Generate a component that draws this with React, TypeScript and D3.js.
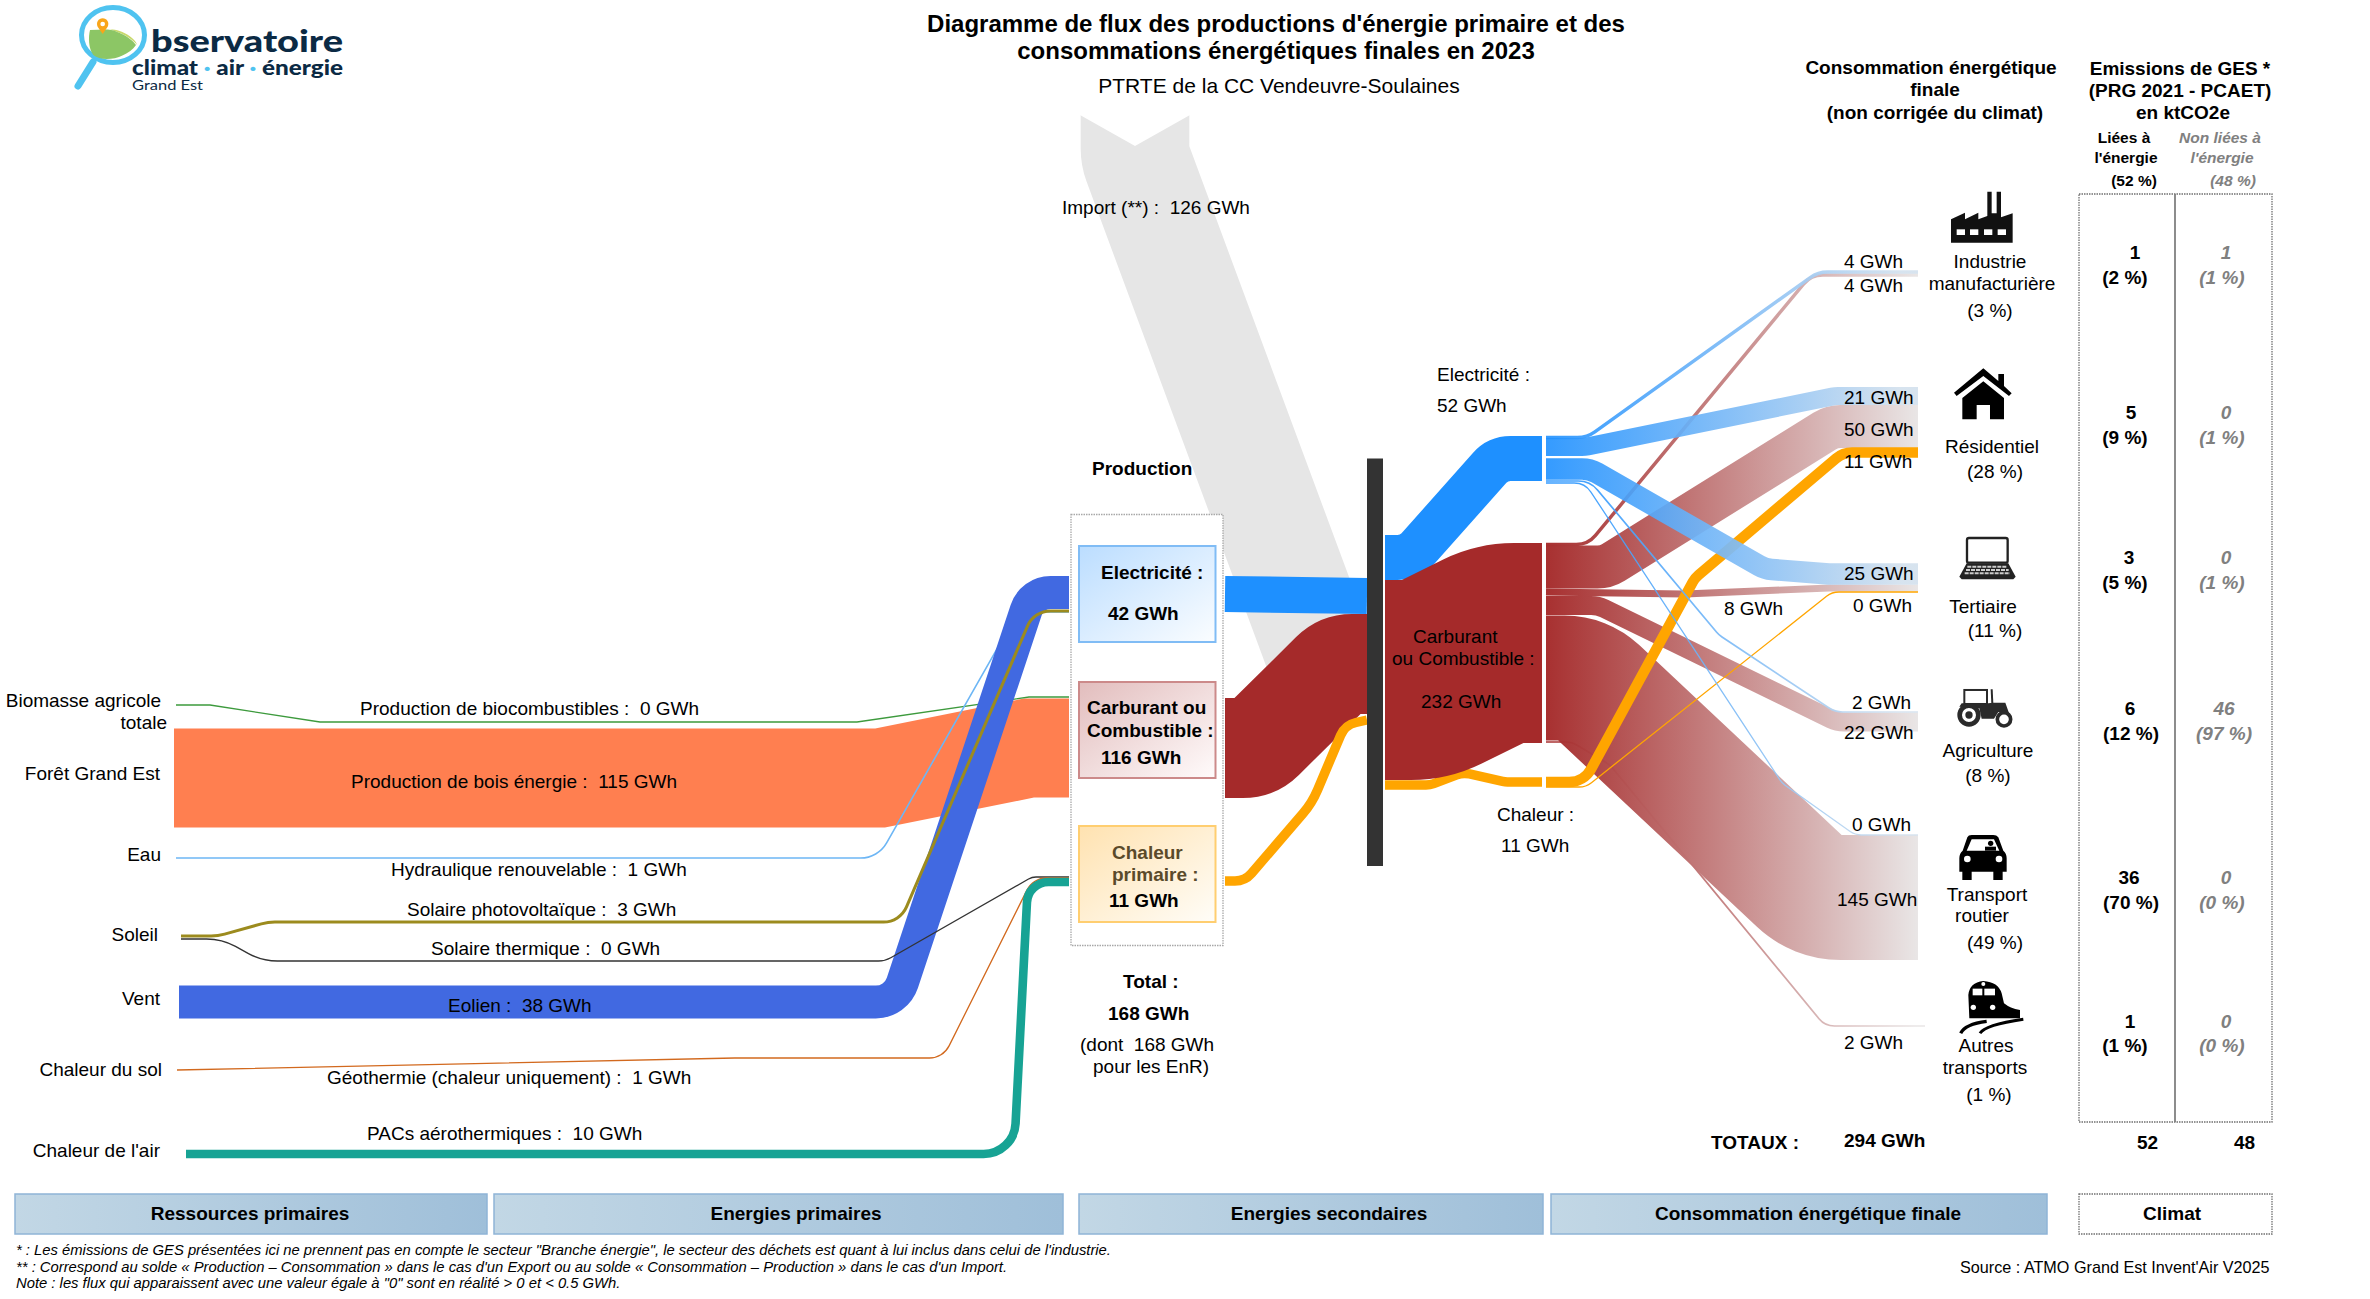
import React from "react";
import * as d3 from "d3";

// ---------- DATA ----------
const primaryFlowNames = ["Production de biocombustibles", "Production de bois énergie", "Hydraulique renouvelable", "Solaire photovoltaïque", "Solaire thermique", "Eolien", "Géothermie (chaleur uniquement)", "PACs aérothermiques"];
const primaryFlowValues = [0, 115, 1, 3, 0, 38, 1, 10];
const primaryTotals = [42, 116, 11];
const secondaryTotals = [52, 232, 11];
const importValue = 126;
const totalProduction = 168;
const totalFinal = 294;
const sectorShares = [3, 28, 11, 8, 49, 1];
const elecToSector = [4, 21, 25, 2, 0];
const fuelToSector = [4, 50, 8, 22, 145, 2];
const heatToSector = [11, 0];
const gesEnergy = [1, 5, 3, 6, 36, 1];
const gesEnergyPct = [2, 9, 5, 12, 70, 1];
const gesOther = [1, 0, 0, 46, 0, 0];
const gesOtherPct = [1, 1, 1, 97, 0, 0];
const gesTotals = [52, 48];

// ---------- LAYOUT ----------
type P = [number, number];
const k = d3.scaleLinear().domain([0, 232]).range([0, 200]);
const w = (v: number, min = 1.3) => Math.max(min, k(v));

function route(pts: P[], r: number | number[] = 0): string {
  const p = d3.path();
  p.moveTo(pts[0][0], pts[0][1]);
  for (let i = 1; i < pts.length - 1; i++) {
    const [x0, y0] = pts[i - 1], [x1, y1] = pts[i], [x2, y2] = pts[i + 1];
    const a = Math.hypot(x1 - x0, y1 - y0), b = Math.hypot(x2 - x1, y2 - y1);
    const cos = ((x1 - x0) * (x2 - x1) + (y1 - y0) * (y2 - y1)) / (a * b);
    const th = Math.acos(Math.max(-1, Math.min(1, cos)));
    const tan = Math.tan(th / 2);
    const want = Array.isArray(r) ? r[i - 1] : r;
    const rr = tan > 1e-3 ? Math.min(want, (Math.min(a, b) * 0.5) / tan) : 0;
    p.arcTo(x1, y1, x2, y2, rr);
  }
  const l = pts[pts.length - 1];
  p.lineTo(l[0], l[1]);
  return p.toString();
}

const primaryRoutes: { pts: P[]; r: number | number[]; c: string; min?: number }[] = [
  { pts: [[176, 705], [210, 705], [320, 722], [857, 722], [1029, 697], [1069, 697]], r: 0, c: "#3d9a3d" },
  { pts: [[174, 778], [880, 778], [1029, 748], [1069, 748]], r: 0, c: "#FF7F50" },
  { pts: [[176, 858], [878, 858], [1018, 612], [1069, 612]], r: 30, c: "#6DB6F5", min: 1.6 },
  { pts: [[181, 936], [218, 936], [268, 922], [900, 922], [1034, 611], [1069, 611]], r: [50, 50, 25, 25], c: "#9C8B1E", min: 3 },
  { pts: [[181, 939], [222, 939], [262, 961], [885, 961], [1032, 877], [1069, 877]], r: [60, 60, 25, 15], c: "#333333" },
  { pts: [[179, 1002], [896, 1002], [1032, 592.5], [1069, 592.5]], r: 28, c: "#4169E1" },
  { pts: [[177, 1070], [735, 1058], [943, 1058], [1033, 878], [1069, 878]], r: 22, c: "#D2691E" },
  { pts: [[186, 1154], [1014, 1154], [1028, 882], [1069, 882]], r: 32, c: "#17A394" },
];
const primaryDrawOrder = [1, 0, 2, 5, 3, 4, 6, 7];

const outRoutesElec: { pts: P[]; r: number }[] = [
  { pts: [[1546, 437.5], [1587, 437.5], [1818, 272], [1918, 272]], r: 30 },
  { pts: [[1546, 447], [1585, 447], [1835, 396], [1918, 396]], r: 30 },
  { pts: [[1546, 469], [1590, 469], [1765, 569], [1830, 574], [1918, 574]], r: 30 },
  { pts: [[1546, 481], [1590, 481], [1719, 635], [1835, 712], [1918, 712]], r: 25 },
  { pts: [[1546, 483], [1585, 483], [1782, 783], [1855, 835], [1918, 835]], r: 20 },
];
const outRoutesFuel: { pts: P[]; r: number }[] = [
  { pts: [[1546, 544.5], [1588, 544.5], [1811, 275], [1918, 275]], r: 25 },
  { pts: [[1546, 567], [1606, 567], [1832, 426.5], [1918, 426.5]], r: 30 },
  { pts: [[1546, 592], [1684, 594], [1830, 588], [1918, 588]], r: 30 },
  { pts: [[1546, 605.5], [1598, 605.5], [1837, 722], [1918, 722]], r: 30 },
  { pts: [[1546, 678], [1583, 678], [1817, 897.5], [1918, 897.5]], r: 60 },
  { pts: [[1546, 742], [1572, 742], [1610, 765], [1825, 1026], [1925, 1026]], r: 20 },
];
const outRoutesHeat: { pts: P[]; r: number; min: number }[] = [
  { pts: [[1546, 782], [1584, 782], [1695, 578], [1843, 452.5], [1918, 452.5]], r: 25, min: 10.5 },
  { pts: [[1546, 787], [1586, 787], [1832, 592], [1918, 592]], r: 20, min: 1.3 },
];
const fuelDrawOrder = [4, 5, 3, 2, 1, 0];

const FF = "'Liberation Sans', Arial, sans-serif";
const S = 19;

type T = [string, number, number, ("start" | "middle" | "end")?];
const Txt = ({ items, size = S, weight, style, fill = "#000" }: { items: T[]; size?: number; weight?: string; style?: string; fill?: string }) => (
  <>
    {items.map(([s, x, y, a], i) => (
      <text key={i} x={x} y={y} textAnchor={a ?? "start"} fontSize={size} fontWeight={weight} fontStyle={style} fill={fill} xmlSpace="preserve">{s}</text>
    ))}
  </>
);

const Grad = ({ id, stops, x1 = "0", y1 = "0", x2 = "1", y2 = "0", user }: { id: string; stops: [number, string, number?][]; x1?: any; y1?: any; x2?: any; y2?: any; user?: boolean }) => (
  <linearGradient id={id} x1={x1} y1={y1} x2={x2} y2={y2} gradientUnits={user ? "userSpaceOnUse" : undefined}>
    {stops.map(([o, c, a], i) => <stop key={i} offset={o} stopColor={c} stopOpacity={a ?? 1} />)}
  </linearGradient>
);

const flowLabel = (i: number) => `${primaryFlowNames[i]} :  ${primaryFlowValues[i]} GWh`;

export default function App() {
  const flowLabelPos: [number, number][] = [[360, 715], [351, 788], [391, 876], [407, 916], [431, 955], [448, 1012], [327, 1084], [367, 1140]];
  const headerBars: [string, number, number][] = [["Ressources primaires", 15, 487], ["Energies primaires", 494, 1063], ["Energies secondaires", 1079, 1543], ["Consommation énergétique finale", 1551, 2047]];
  const barLabelX = [250, 796, 1329, 1808];
  const boxes: [number, string, string][] = [[546, "url(#gBoxE)", "#80BCF5"], [682, "url(#gBoxC)", "#CC8A8A"], [826, "url(#gBoxH)", "#FFCE70"]];
  const gesRows: [number, number, number, number, number, number][] = [
    [259, 284, 2135, 2125, 2226, 2222], [419, 444, 2131, 2125, 2226, 2222], [563.5, 589, 2129, 2125, 2226, 2222],
    [715, 740, 2130, 2131, 2224, 2224], [884, 909, 2129, 2131, 2226, 2222], [1027.5, 1052, 2130, 2125, 2226, 2222],
  ];

  return (
    <svg width={2370} height={1299} style={{ position: "absolute", left: 0, top: 0, display: "block", background: "#fff" }} fontFamily={FF}>
      <defs>
        <Grad id="gBlue" user x1={1546} x2={1900} y1={0} y2={0} stops={[[0, "#1E90FF", 0.9], [1, "#D5E2EE", 0.95]]} />
        <Grad id="gRed" user x1={1546} x2={1918} y1={0} y2={0} stops={[[0, "#A52A2A", 0.97], [1, "#E9E6E6", 1]]} />
        <Grad id="gBoxE" x2="1" y2="1" stops={[[0, "#BBDDFF"], [1, "#FBFDFF"]]} />
        <Grad id="gBoxC" x2="1" y2="1" stops={[[0, "#E2BDBD"], [1, "#FFFBFB"]]} />
        <Grad id="gBoxH" x2="1" y2="1" stops={[[0, "#FFE2B0"], [1, "#FFFDF8"]]} />
        <Grad id="gBar" stops={[[0, "#C2D7E5"], [1, "#9FBFD9"]]} />
      </defs>

      {/* Import */}
      <path d={route([[1135, 110], [1135, 156], [1320, 655]], 40)} fill="none" stroke="#E6E6E6" strokeWidth={k(importValue)} />
      <polygon points="1070,115 1080,115 1135,146 1190,115 1200,115 1200,100 1070,100" fill="#fff" />

      {/* Production frame */}
      <rect x={1071} y={514.5} width={152} height={431} fill="#fff" stroke="#A8A8A8" strokeWidth={1.3} strokeDasharray="1.5 1" />

      {/* Primary flows */}
      {primaryDrawOrder.map((i) => {
        const f = primaryRoutes[i];
        return <path key={i} d={route(f.pts, f.r)} fill="none" stroke={f.c} strokeWidth={w(primaryFlowValues[i], f.min ?? 1.3)} />;
      })}

      {/* Production boxes */}
      {boxes.map(([y, fill, st], i) => <rect key={i} x={1079} y={y} width={136.5} height={96} fill={fill} stroke={st} strokeWidth={2} />)}

      {/* Production to bar */}
      <path d={route([[1225, 594], [1367, 596]])} fill="none" stroke="#1E90FF" strokeWidth={w(primaryTotals[0])} />
      <path d={route([[1225, 748], [1255, 748], [1340, 664], [1367, 664]], 30)} fill="none" stroke="#A52A2A" strokeWidth={w(primaryTotals[1])} />
      <path d={route([[1225, 881], [1245, 881], [1312, 803], [1345, 725], [1367, 720]], [30, 90, 25])} fill="none" stroke="#FFA500" strokeWidth={w(primaryTotals[2])} />

      {/* Bar */}
      <rect x={1367} y={458.5} width={16} height={407.5} fill="#333" />

      {/* Secondary */}
      <path d={route([[1385, 557.5], [1410, 557.5], [1498, 458.5], [1542, 458.5]], 28)} fill="none" stroke="#1E90FF" strokeWidth={w(secondaryTotals[0])} />
      <path d={route([[1385, 785], [1430, 785], [1463, 772.5], [1505, 782], [1542, 782]], 22)} fill="none" stroke="#FFA500" strokeWidth={w(secondaryTotals[2])} />
      <path d={route([[1385, 680], [1425, 680], [1500, 643], [1542, 643]], 60)} fill="none" stroke="#A52A2A" strokeWidth={w(secondaryTotals[1])} />

      {/* Final flows */}
      {fuelDrawOrder.map((i) => <path key={i} d={route(outRoutesFuel[i].pts, outRoutesFuel[i].r)} fill="none" stroke="url(#gRed)" strokeWidth={w(fuelToSector[i])} />)}
      {outRoutesHeat.map((f, i) => <path key={i} d={route(f.pts, f.r)} fill="none" stroke="#FFA500" strokeWidth={w(heatToSector[i], f.min)} />)}
      {outRoutesElec.map((f, i) => <path key={i} d={route(f.pts, f.r)} fill="none" stroke="url(#gBlue)" strokeWidth={w(elecToSector[i])} />)}

      {/* Title */}
      <Txt size={24} weight="bold" items={[["Diagramme de flux des productions d'énergie primaire et des", 1276, 32, "middle"], ["consommations énergétiques finales en 2023", 1276, 59, "middle"]]} />
      <Txt size={21} items={[["PTRTE de la CC Vendeuvre-Soulaines", 1279, 93, "middle"]]} />

      {/* Logo */}
      <g>
        <ellipse cx={113} cy={35} rx={31.5} ry={27.5} fill="#fff" stroke="#4FC3F0" strokeWidth={5} />
        <line x1={93} y1={62} x2={78} y2={86} stroke="#4FC3F0" strokeWidth={7} strokeLinecap="round" />
        <g transform="translate(60,0) scale(0.3333)">
          <path d="M150,88 C190,90 225,115 232,135 L222,125 C200,105 170,95 150,88 Z" fill="#C8D86A" />
          <path d="M90,90 C120,90 150,85 170,95 C200,105 222,125 228,135 C200,175 130,190 100,165 C85,145 85,110 90,90 Z" fill="#8CC665" />
          <path d="M128,102 L113,80 A17,17 0 1 1 143,80 Z" fill="#F9A51A" />
          <circle cx={128} cy={72} r={7} fill="#fff" />
        </g>
        <text x={151} y={52} fontFamily="Lato, sans-serif" fontWeight="900" fontSize={29.5} fill="#0B2A44" textLength={192} lengthAdjust="spacingAndGlyphs">bservatoire</text>
        <text x={132} y={75} fontFamily="Lato, sans-serif" fontWeight="900" fontSize={20} fill="#0B2A44" textLength={211} lengthAdjust="spacingAndGlyphs" xmlSpace="preserve">climat <tspan fill="#4FC3F0">·</tspan> air <tspan fill="#4FC3F0">·</tspan> énergie</text>
        <text x={132} y={90} fontFamily="Lato, sans-serif" fontSize={14} fill="#0B2A44" textLength={71} lengthAdjust="spacingAndGlyphs">Grand Est</text>
      </g>

      {/* Left labels */}
      <Txt items={[["Biomasse agricole", 161, 707, "end"], ["totale", 167, 729, "end"], ["Forêt Grand Est", 160, 780, "end"], ["Eau", 161, 861, "end"], ["Soleil", 158, 941, "end"], ["Vent", 160, 1005, "end"], ["Chaleur du sol", 162, 1076, "end"], ["Chaleur de l'air", 160, 1157, "end"]]} />
      <Txt items={primaryFlowNames.map((_, i): T => [flowLabel(i), flowLabelPos[i][0], flowLabelPos[i][1]])} />
      <Txt items={[[`Import (**) :  ${importValue} GWh`, 1062, 214]]} />

      {/* Production labels */}
      <Txt weight="bold" items={[["Production", 1092, 475]]} />
      <Txt weight="bold" items={[["Electricité :", 1101, 579], [`${primaryTotals[0]} GWh`, 1108, 620], ["Carburant ou", 1087, 714], ["Combustible :", 1087, 737], [`${primaryTotals[1]} GWh`, 1101, 764], [`${primaryTotals[2]} GWh`, 1109, 907]]} />
      <Txt weight="bold" fill="#5A4A2A" items={[["Chaleur", 1112, 859], ["primaire :", 1112, 881]]} />
      <Txt weight="bold" items={[["Total :", 1123, 988], [`${totalProduction} GWh`, 1108, 1020]]} />
      <Txt items={[[`(dont  ${totalProduction} GWh`, 1080, 1051], ["pour les EnR)", 1093, 1073]]} />

      {/* Secondary labels */}
      <Txt items={[["Electricité :", 1437, 381], [`${secondaryTotals[0]} GWh`, 1437, 412], ["Carburant", 1413, 643], ["ou Combustible :", 1392, 665], [`${secondaryTotals[1]} GWh`, 1421, 708], ["Chaleur :", 1497, 821], [`${secondaryTotals[2]} GWh`, 1501, 852]]} />

      {/* End labels */}
      <Txt items={[
        [`${elecToSector[0]} GWh`, 1844, 268], [`${fuelToSector[0]} GWh`, 1844, 292],
        [`${elecToSector[1]} GWh`, 1844, 404], [`${fuelToSector[1]} GWh`, 1844, 435.5], [`${heatToSector[0]} GWh`, 1844, 468],
        [`${elecToSector[2]} GWh`, 1844, 580], [`${fuelToSector[2]} GWh`, 1724, 615], [`${heatToSector[1]} GWh`, 1853, 612],
        [`${elecToSector[3]} GWh`, 1852, 709], [`${fuelToSector[3]} GWh`, 1844, 739], [`${elecToSector[4]} GWh`, 1852, 831],
        [`${fuelToSector[4]} GWh`, 1837, 906], [`${fuelToSector[5]} GWh`, 1844, 1049],
      ]} />
      <Txt weight="bold" items={[["TOTAUX :", 1711, 1149], [`${totalFinal} GWh`, 1844, 1147], [`${gesTotals[0]}`, 2137, 1149], [`${gesTotals[1]}`, 2234, 1149]]} />

      {/* Sector labels */}
      <Txt items={[
        ["Industrie", 1990, 268, "middle"], ["manufacturière", 1992, 290, "middle"], [`(${sectorShares[0]} %)`, 1990, 317, "middle"],
        ["Résidentiel", 1992, 453, "middle"], [`(${sectorShares[1]} %)`, 1995, 478, "middle"],
        ["Tertiaire", 1983, 613, "middle"], [`(${sectorShares[2]} %)`, 1995, 637, "middle"],
        ["Agriculture", 1988, 757, "middle"], [`(${sectorShares[3]} %)`, 1988, 782, "middle"],
        ["Transport", 1987, 901, "middle"], ["routier", 1982, 922, "middle"], [`(${sectorShares[4]} %)`, 1995, 949, "middle"],
        ["Autres", 1986, 1052, "middle"], ["transports", 1985, 1074, "middle"], [`(${sectorShares[5]} %)`, 1989, 1101, "middle"],
      ]} />

      {/* Column headers */}
      <Txt weight="bold" items={[
        ["Consommation énergétique", 1931, 74, "middle"], ["finale", 1935, 96, "middle"], ["(non corrigée du climat)", 1935, 119, "middle"],
        ["Emissions de GES *", 2180, 74.5, "middle"], ["(PRG 2021 - PCAET)", 2180, 97, "middle"], ["en ktCO2e", 2183, 119, "middle"],
      ]} />
      <Txt size={15.5} weight="bold" items={[["Liées à", 2124, 143, "middle"], ["l'énergie", 2126, 163, "middle"], [`(${gesTotals[0]} %)`, 2134, 186, "middle"]]} />
      <Txt size={15.5} weight="bold" style="italic" fill="#808080" items={[["Non liées à", 2220, 143, "middle"], ["l'énergie", 2222, 163, "middle"], [`(${gesTotals[1]} %)`, 2233, 186, "middle"]]} />

      {/* GES panel */}
      <rect x={2079} y={194} width={193} height={928} fill="none" stroke="#707070" strokeWidth={1.3} strokeDasharray="1.5 1" />
      <line x1={2175} x2={2175} y1={194} y2={1122} stroke="#808080" strokeWidth={1.8} />
      {gesRows.map(([y1, y2, x1, x2, x3, x4], i) => (
        <g key={i}>
          <Txt weight="bold" items={[[`${gesEnergy[i]}`, x1, y1, "middle"], [`(${gesEnergyPct[i]} %)`, x2, y2, "middle"]]} />
          <Txt weight="bold" style="italic" fill="#808080" items={[[`${gesOther[i]}`, x3, y1, "middle"], [`(${gesOtherPct[i]} %)`, x4, y2, "middle"]]} />
        </g>
      ))}

      {/* Icons */}
      <g transform="translate(1930,180) scale(0.3333)">
        <path d="M63,188 V118 L105,98 V118 L145,98 V118 L172,108 V35 H185 V100 H200 V35 H213 V112 L248,100 V188 Z" fill="#111" />
        {[80, 120, 162, 203].map((x) => <rect key={x} x={x} y={148} width={25} height={17} fill="#fff" />)}
        <path d="M72,638 L160,565 L205,603 V582 H222 V618 L245,640 L237,648 L160,588 L80,648 Z" fill="#000" />
        <path d="M97,654 L160,604 L222,654 V718 H180 V675 H140 V718 H97 Z" fill="#000" />
      </g>
      <g transform="translate(1930,530) scale(0.3333)">
        <rect x={111} y={24} width={122} height={74} rx={6} fill="#fff" stroke="#222" strokeWidth={7} />
        <path d="M110,100 H235 L257,140 L250,148 H95 L88,140 Z" fill="#222" />
        {[110, 120, 130].map((y, i) => <line key={y} x1={112 - i * 4} x2={232 + i * 4} y1={y} y2={y} stroke="#ccc" strokeWidth={6} strokeDasharray="12 3" />)}
        {/* tractor */}
        <rect x={103} y={480} width={68} height={42} fill="none" stroke="#2a2a2a" strokeWidth={6} />
        <line x1={185} y1={478} x2={187} y2={520} stroke="#2a2a2a" strokeWidth={6} />
        <path d="M88,530 L95,520 H175 L190,518 H226 L238,552 L205,546 L192,566 H155 L148,535 Z" fill="#2a2a2a" />
        <circle cx={117} cy={555} r={28} fill="#fff" stroke="#2a2a2a" strokeWidth={14} />
        <circle cx={117} cy={555} r={11} fill="#2a2a2a" />
        <circle cx={222} cy={568} r={20} fill="#fff" stroke="#2a2a2a" strokeWidth={11} />
      </g>
      <g transform="translate(1930,830) scale(0.3333)">
        <path d="M112,22 Q115,15 125,15 H190 Q200,15 205,22 L220,62 Q230,70 230,85 V125 H218 V150 H190 V125 H125 V150 H97 V125 H88 V85 Q88,70 98,62 Z" fill="#000" />
        <path d="M125,28 H192 L208,62 H110 Z" fill="#fff" />
        <circle cx={182} cy={40} r={8} fill="#000" />
        <rect x={165} y={50} width={33} height={12} fill="#000" />
        <circle cx={112} cy={87} r={10} fill="#fff" />
        <circle cx={207} cy={87} r={10} fill="#fff" />
        <path d="M115,495 Q118,458 160,453 Q205,456 215,490 L222,520 Q240,535 270,540 V565 H118 Z" fill="#000" />
        <rect x={128} y={476} width={29} height={20} fill="#fff" />
        <rect x={163} y={476} width={32} height={20} fill="#fff" />
        <circle cx={130} cy={532} r={8} fill="#fff" />
        <circle cx={188} cy={532} r={8} fill="#fff" />
        <circle cx={160} cy={462} r={6} fill="#fff" />
        <path d="M92,610 Q105,582 170,574" fill="none" stroke="#000" strokeWidth={10} />
        <path d="M150,610 Q165,585 280,568" fill="none" stroke="#000" strokeWidth={9} />
      </g>

      {/* Bottom bars */}
      {headerBars.map(([s, x0, x1], i) => (
        <g key={s}>
          <rect x={x0} y={1194} width={x1 - x0} height={40} fill="url(#gBar)" stroke="#8FB4D6" strokeWidth={1.5} />
          <text x={barLabelX[i]} y={1220} textAnchor="middle" fontSize={S} fontWeight="bold">{s}</text>
        </g>
      ))}
      <rect x={2079} y={1194} width={193} height={40} fill="#fff" stroke="#707070" strokeWidth={1.3} strokeDasharray="1.5 1" />
      <text x={2172} y={1220} textAnchor="middle" fontSize={S} fontWeight="bold">Climat</text>

      {/* Notes */}
      <Txt size={14.8} style="italic" items={[
        ["* : Les émissions de GES présentées ici ne prennent pas en compte le secteur \"Branche énergie\", le secteur des déchets est quant à lui inclus dans celui de l'industrie.", 16, 1255],
        ["** : Correspond au solde « Production – Consommation » dans le cas d'un Export ou au solde « Consommation – Production » dans le cas d'un Import.", 16, 1272],
        ["Note : les flux qui apparaissent avec une valeur égale à \"0\" sont en réalité > 0 et < 0.5 GWh.", 16, 1288],
      ]} />
      <Txt size={16.2} items={[["Source : ATMO Grand Est Invent'Air V2025", 1960, 1273]]} />
    </svg>
  );
}
